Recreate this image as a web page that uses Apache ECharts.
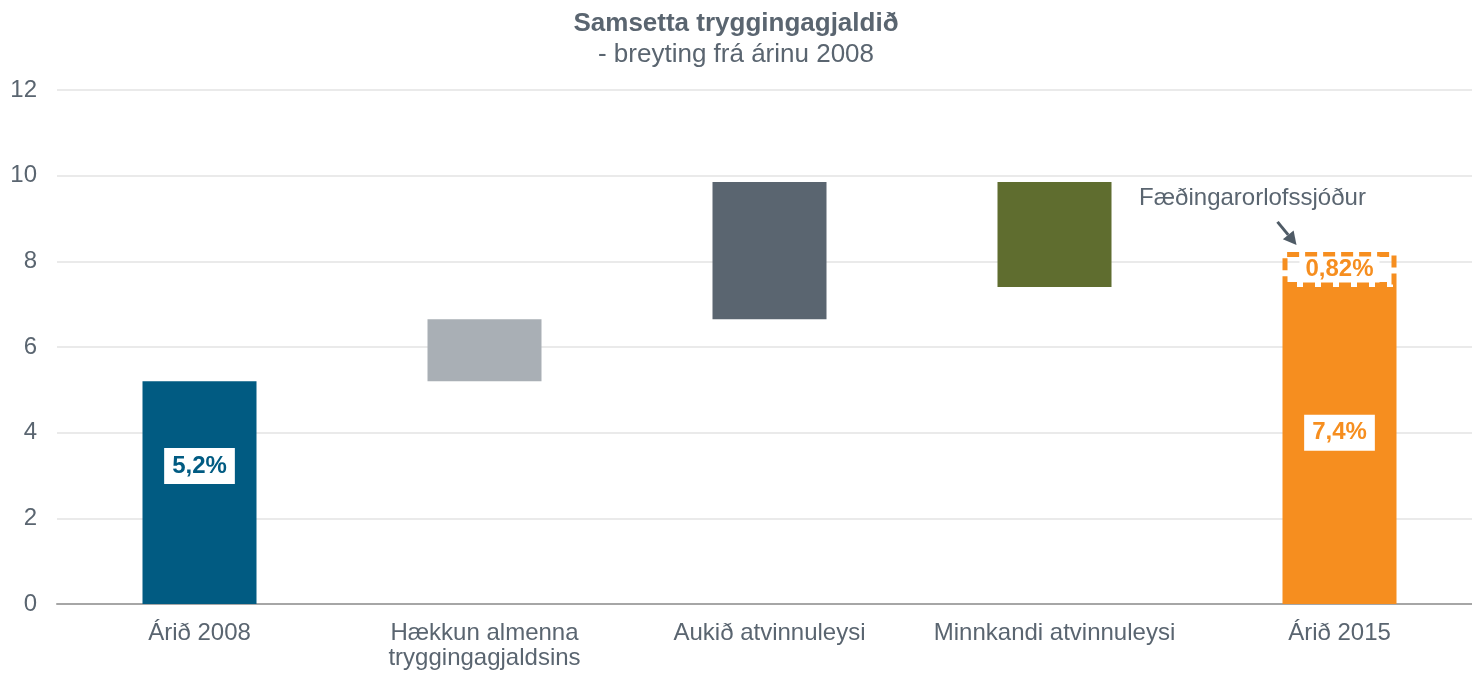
<!DOCTYPE html>
<html lang="is">
<head>
    <meta charset="UTF-8">
    <title>Samsetta tryggingagjaldið</title>
    <style>
        html, body {margin: 0; padding: 0; background: #fff;}
        #chart {width: 1472px; height: 675px;}
    </style>
</head>
<body>
<div id="chart"></div>
<script src="https://cdn.jsdelivr.net/npm/echarts@6/dist/echarts.min.js"></script>
<script>
    // gögn
    let categories = ['Árið 2008', 'Hækkun almenna\ntryggingagjaldsins', 'Aukið atvinnuleysi', 'Minnkandi atvinnuleysi', 'Árið 2015'];
    let baseValues = [0, 5.2, 6.65, 7.4, 0];
    let stepValues = [5.2, 1.45, 3.2, 2.45, 7.4];
    let fundValues = [null, null, null, null, 0.82];
    let barColors = ['#015b82', '#a9afb5', '#5a6570', '#5f6d2f', '#f68e1f'];
    let barLabels = ['5,2%', '', '', '', '7,4%'];
    let labelPos = ['38%', '', '', '', '46%'];
    let yTicks = [0, 2, 4, 6, 8, 10, 12];

    let gray = '#5a6570';
    let orange = '#f68e1f';
    let font = 'Liberation Sans, Arial, sans-serif';

    let myChart = echarts.init(document.getElementById('chart'));

    let stepData = stepValues.map(function (v, i) {
        let item = {value: v, itemStyle: {color: barColors[i]}};
        if (barLabels[i]) {
            item.label = {
                show: true,
                formatter: barLabels[i],
                position: ['50%', labelPos[i]],
                align: 'center',
                verticalAlign: 'middle',
                color: barColors[i],
                fontWeight: 'bold',
                fontSize: 24,
                fontFamily: font,
                backgroundColor: '#fff',
                padding: [7, 8, 5, 8]
            };
        }
        return item;
    });

    let option = {
        animation: false,
        title: {
            text: 'Samsetta tryggingagjaldið',
            subtext: '- breyting frá árinu 2008',
            left: 'center',
            top: 6,
            itemGap: 5,
            textStyle: {color: gray, fontSize: 26, fontWeight: 'bold', fontFamily: font},
            subtextStyle: {color: gray, fontSize: 26, fontFamily: font}
        },
        // flokkabilið nær aðeins út fyrir hægri brún myndarinnar
        grid: {left: 57, width: 1425, top: 90, bottom: 71, containLabel: false, outerBoundsMode: 'none'},
        xAxis: {
            type: 'category',
            data: categories,
            axisTick: {show: false},
            axisLine: {lineStyle: {color: '#a6a6a6', width: 2}},
            axisLabel: {color: gray, fontSize: 24, fontFamily: font, lineHeight: 25, margin: 17, interval: 0}
        },
        yAxis: {
            type: 'value',
            min: yTicks[0],
            max: yTicks[yTicks.length - 1],
            interval: 2,
            axisLine: {show: false},
            axisTick: {show: false},
            splitLine: {lineStyle: {color: '#e3e3e3', width: 1.5}},
            axisLabel: {color: gray, fontSize: 24, fontFamily: font, margin: 20}
        },
        series: [
            {
                name: 'base',
                type: 'bar',
                stack: 'w',
                barWidth: 114,
                silent: true,
                itemStyle: {color: 'transparent'},
                data: baseValues
            },
            {
                name: 'step',
                type: 'bar',
                stack: 'w',
                barWidth: 114,
                data: stepData
            },
            {
                name: 'fund',
                type: 'bar',
                stack: 'w',
                barWidth: 114,
                itemStyle: {
                    color: 'transparent',
                    borderColor: orange,
                    borderWidth: 5,
                    borderType: [12, 6]
                },
                label: {
                    show: true,
                    position: 'inside',
                    formatter: '0,82%',
                    color: orange,
                    fontWeight: 'bold',
                    fontSize: 24,
                    fontFamily: font,
                    backgroundColor: '#fff',
                    padding: [2, 6, 0, 6]
                },
                data: fundValues
            }
        ]
    };

    myChart.setOption(option);

    // skýring með ör
    let fundTop = myChart.convertToPixel({xAxisIndex: 0, yAxisIndex: 0}, [4, 8.22]);
    let x0 = fundTop[0] - 62, y0 = fundTop[1] - 30;
    let x1 = fundTop[0] - 43, y1 = fundTop[1] - 7;
    let ang = Math.atan2(y1 - y0, x1 - x0);
    let hl = 13, hw = 7;
    let bx = x1 - hl * Math.cos(ang), by = y1 - hl * Math.sin(ang);
    myChart.setOption({
        graphic: [
            {
                type: 'text',
                x: fundTop[0] - 87,
                y: fundTop[1] - 54,
                style: {
                    text: 'Fæðingarorlofssjóður',
                    fill: gray,
                    fontSize: 24,
                    fontFamily: font,
                    align: 'center',
                    verticalAlign: 'middle'
                }
            },
            {
                type: 'line',
                shape: {x1: x0, y1: y0, x2: bx, y2: by},
                style: {stroke: '#4f5b66', lineWidth: 3}
            },
            {
                type: 'polygon',
                shape: {
                    points: [
                        [x1, y1],
                        [bx - hw * Math.sin(ang), by + hw * Math.cos(ang)],
                        [bx + hw * Math.sin(ang), by - hw * Math.cos(ang)]
                    ]
                },
                style: {fill: '#4f5b66'}
            }
        ]
    });
</script>
</body>
</html>
